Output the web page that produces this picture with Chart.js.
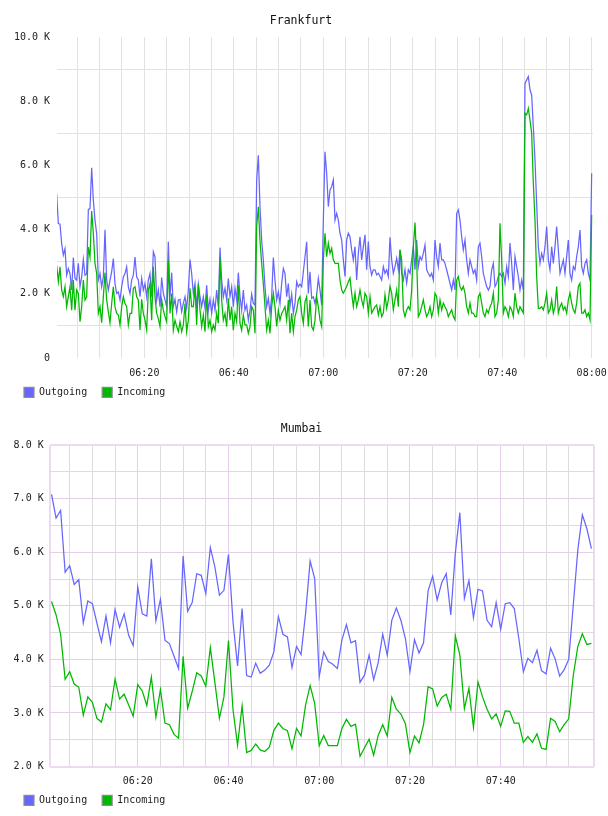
<!DOCTYPE html>
<html><head><meta charset="utf-8">
<script src="https://cdn.jsdelivr.net/npm/chart.js@4"></script>
<style>
html,body{margin:0;padding:0;background:#fff;}
.box{position:relative;width:608px;height:408px;}
</style></head><body>
<div class="box"><canvas id="fra"></canvas></div>
<div class="box"><canvas id="mum"></canvas></div>
<script>
// ---------- data ----------
const seriesNames = ['Outgoing', 'Incoming'];
const seriesColors = ['#6666ff', '#00b800'];
const fraTitle = 'Frankfurt';
const mumTitle = 'Mumbai';

// Frankfurt: samples (minutes after 06:00), first sample and spacing
const FRA_START_MIN = 0.396;
const FRA_STEP_MIN = 0.3726;
const fraOut = [
5120,4190,4170,3570,3210,3410,2580,2790,2630,2120,
3130,2480,2430,2950,2220,2530,3070,2580,2630,4630,
4660,5930,4920,4290,3880,2430,2630,2220,2530,4000,
2430,2120,2430,2690,3100,2320,2010,2060,1810,2220,
2530,2630,2840,2220,2010,2430,2580,3150,2530,2430,
1910,2480,2120,2320,1910,2430,2630,1910,3310,3150,
1810,2120,1600,2510,2010,1810,1600,3620,1910,2660,
1600,1830,1440,1810,1830,1440,1700,1910,1550,2120,
3070,2630,2010,2320,1550,2300,1910,1600,1910,1550,
2270,1490,1830,1390,1810,1490,2120,1600,3440,2430,
1910,2170,1810,2480,1910,2220,1600,2170,1810,2660,
1910,1490,2120,1490,1650,1180,1490,1990,1700,1650,
5540,6320,4710,3670,3050,2220,1600,1860,1390,1910,
3130,2430,1810,2060,1700,2320,2790,2630,1910,2320,
1600,1990,1390,1700,2380,2220,2300,2220,2690,3150,
3620,2010,2690,1860,1910,1700,1960,2480,2120,
1650,4300,6430,5760,4720,5240,5340,5550,4300,4510,
4300,3890,3680,3060,2540,3680,3890,3780,3370,3060,
3470,2430,3260,3780,3060,3470,3840,2750,3630,2850,
2590,2750,2750,2590,2640,2540,2430,2850,2640,2750,
2540,3760,3060,2640,2850,3110,2750,3370,2640,2430,
2750,2330,2750,2640,3060,3470,2750,3680,2850,3160,
3060,3260,3520,2750,2640,2540,2640,2430,3680,3160,
2850,3580,3060,3060,2950,2750,2540,2330,2120,2430,
2120,4510,4620,4300,3780,3370,3680,3060,2640,3060,
2850,2640,2750,2430,3470,3580,3160,2640,2430,2230,
2120,2230,2750,2950,2230,2330,2540,2640,2540,2640,
2330,2850,2540,3580,2950,2120,3160,2850,2540,2120,
2430,2120,8560,8670,8770,8360,8200,7210,6170,4820,
3470,2950,3260,3060,3470,4100,3060,2750,3470,2950,
3470,4100,3370,2640,2850,3060,2640,3160,3680,2640,
2430,2850,2750,3160,3470,3990,2850,2640,2950,3060,
2640,2430,5760
];
const fraIn = [
2890,2380,2840,2120,1910,2220,1600,1910,2220,1490,
2430,1490,2120,2010,1130,1600,2430,1810,1910,3460,
3150,4580,3880,2950,2630,1390,1600,1100,1910,2660,
1810,1440,1100,1700,2220,1600,1390,1340,1030,1600,
1910,1700,1600,1030,1390,1390,2170,2220,1910,1810,
870,1830,1390,1180,870,2120,2320,1180,2840,1910,
1390,1230,980,1810,1490,1290,1130,3050,1390,2010,
870,1180,980,820,1130,820,1030,1700,820,1180,
2170,1600,1600,2220,1030,2300,1490,980,1340,820,
1960,980,1180,820,1030,870,1390,1080,3130,1810,
1180,1390,980,1860,1180,1600,870,1390,1130,2270,
1080,870,1340,1030,1030,770,980,1600,1490,770,
4090,4710,3670,2950,2320,1600,870,1180,770,1600,
2010,1600,980,1490,1180,1390,1490,1600,1180,1810,
770,1390,820,1290,1490,1810,1910,1390,1080,1750,
1910,980,1810,980,870,1180,1910,1600,1180,
980,3060,3890,3160,3580,3260,3420,3060,2950,2950,
2950,2430,2120,2020,2120,2230,2380,2490,2020,1600,
2020,1600,1810,2120,1810,1600,2020,1910,1400,1910,
1400,1500,1600,1650,1340,1600,1290,1400,1970,1550,
1810,2230,2020,1500,1810,2120,1600,3370,3060,1500,
1290,1500,1600,1500,2120,3470,4220,3060,1290,1400,
1600,1810,1500,1290,1400,1600,1290,1500,2020,1910,
1400,1810,1500,1710,1600,1500,1290,1400,1500,1290,
1190,2430,2540,2230,2120,2230,2020,1600,1400,1710,
1400,1400,1290,1290,1910,2020,1710,1400,1290,1500,
1400,1600,1710,2020,1290,1400,1810,4200,3060,1400,
1600,1500,1290,1600,1500,1290,2020,1600,1400,1600,
1500,1400,7630,7580,7780,7420,7010,5450,4300,2540,
1550,1550,1600,1500,1710,2020,1400,1500,1810,1400,
1600,2230,1400,1600,1710,1500,1600,1400,1810,2020,
1710,1500,1400,1710,2230,2330,1400,1400,1500,1290,
1400,1190,4460
];

// Mumbai: one sample per minute from 06:01
const MUM_START_MIN = 1;
const MUM_STEP_MIN = 1;
const mumOut = [
7080,6640,6780,5630,5750,5400,5490,4680,5090,5040,
4680,4330,4810,4310,4930,4600,4850,4450,4260,5350,
4850,4810,5880,4720,5120,4360,4290,4060,3830,5930,
4900,5060,5600,5570,5230,6090,5730,5200,5290,5960,
4700,3880,4950,3700,3670,3930,3740,3800,3890,4140,
4800,4470,4420,3850,4240,4090,4860,5840,5510,3680,
4140,3960,3910,3830,4360,4650,4310,4350,3570,3710,
4080,3620,3940,4470,4080,4730,4960,4730,4390,3770,
4370,4120,4310,5280,5550,5110,5430,5600,4830,5980,
6740,5140,5470,4780,5310,5280,4730,4610,5060,4560,
5040,5060,4950,4390,3770,4020,3940,4170,3790,3730,
4210,4010,3690,3810,4000,5010,6040,6700,6440,6070
];
const mumIn = [
5080,4830,4470,3630,3770,3540,3480,2960,3300,3200,
2900,2830,3170,3060,3630,3260,3350,3150,2940,3530,
3410,3140,3670,2920,3440,2810,2780,2600,2530,4060,
3090,3400,3750,3690,3500,4220,3570,2900,3300,4350,
3060,2400,3130,2260,2300,2420,2310,2280,2360,2670,
2810,2710,2670,2330,2710,2570,3150,3510,3180,2390,
2580,2390,2390,2390,2710,2880,2750,2790,2190,2350,
2510,2210,2580,2780,2570,3290,3070,2980,2800,2260,
2570,2440,2780,3490,3450,3130,3290,3350,3070,4440,
4080,3080,3460,2730,3580,3300,3070,2890,2980,2750,
3040,3030,2810,2810,2450,2560,2450,2610,2340,2320,
2900,2840,2650,2780,2890,3700,4240,4480,4280,4300
];

// axes (minutes after 06:00 / bytes)
const fraXRange = [0.47, 120.3];
const fraYRange = [0, 10000];
const fraXTicks = [5,10,15,20,25,30,35,40,45,50,55,60,65,70,75,80,85,90,95,100,105,110,115,120];
const fraYTicks = [0,1000,2000,3000,4000,5000,6000,7000,8000,9000,10000];
const mumXRange = [0.66, 120.57];
const mumYRange = [2000, 8000];
const mumXTicks = [5,10,15,20,25,30,35,40,45,50,55,60,65,70,75,80,85,90,95,100,105,110,115];
const mumYTicks = [2000,2500,3000,3500,4000,4500,5000,5500,6000,6500,7000,7500,8000];

// ---------- helpers ----------
const FONT = "'DejaVu Sans Mono', monospace";
Chart.defaults.font.family = FONT;
Chart.defaults.font.size = 10;
Chart.defaults.color = '#222';

function hhmm(m) {
  const t = 6 * 60 + Math.round(m);
  const h = Math.floor(t / 60), mm = t % 60;
  return String(h).padStart(2, '0') + ':' + String(mm).padStart(2, '0');
}
function kLabel(v) {
  return v === 0 ? '0' : (v / 1000).toFixed(1) + ' K';
}
function toPoints(vals, start, step) {
  return vals.map((v, i) => ({ x: start + i * step, y: v }));
}

const GRAY = '#e2e2e2';
const MGRAY = '#dedbde';
const PINK = 'rgb(228,206,233)';
const FRAME = 'rgb(236,218,240)';

// moves the legend box up a little so it sits right under the tick labels
const legendNudge = {
  id: 'legendNudge',
  afterLayout(chart, args, opts) {
    const l = chart.legend;
    if (l && opts && opts.dy) { l.top += opts.dy; l.bottom += opts.dy; }
  }
};

function legendOpts(maxH) {
  return {
    position: 'bottom', align: 'start', maxHeight: maxH,
    labels: {
      boxWidth: 10, boxHeight: 10, padding: 15,
      font: { size: 10, family: FONT }, color: '#222',
      sort: (a, b) => a.datasetIndex - b.datasetIndex,
      generateLabels: (chart) => {
        const items = Chart.defaults.plugins.legend.labels.generateLabels(chart);
        items.forEach(it => {
          it.fillStyle = seriesColors[it.datasetIndex];
          it.strokeStyle = '#8c8c8c';
          it.lineWidth = 1.2;
        });
        return items;
      }
    }
  };
}
function titleOpts(text) {
  return { display: true, text, color: '#111',
    font: { size: 11.5, weight: 'normal', family: FONT },
    padding: { top: 14.2, bottom: 9.2 } };
}
function datasets(out, inc, start, step) {
  return [
    { label: seriesNames[0], data: toPoints(out, start, step), borderColor: seriesColors[0],
      backgroundColor: seriesColors[0], borderWidth: 1.25, pointRadius: 0, tension: 0, order: 1 },
    { label: seriesNames[1], data: toPoints(inc, start, step), borderColor: seriesColors[1],
      backgroundColor: seriesColors[1], borderWidth: 1.25, pointRadius: 0, tension: 0, order: 0 }
  ];
}
// keep the plot area at its fixed size even if an edge tick label overhangs
function fixX(h) {
  return s => { s.height = h; s.paddingLeft = 0; s.paddingRight = 0; };
}

// ---------- Frankfurt ----------
new Chart(document.getElementById('fra'), {
  type: 'line',
  data: { datasets: datasets(fraOut, fraIn, FRA_START_MIN, FRA_STEP_MIN) },
  plugins: [legendNudge],
  options: {
    responsive: true, maintainAspectRatio: false, animation: false, events: [],
    layout: { padding: { left: 9, right: 15, top: 0, bottom: 0 } },
    plugins: { title: titleOpts(fraTitle), legend: legendOpts(28),
      legendNudge: { dy: -7.7 }, tooltip: { enabled: false } },
    scales: {
      x: {
        type: 'linear', min: fraXRange[0], max: fraXRange[1],
        afterBuildTicks: s => { s.ticks = fraXTicks.map(v => ({ value: v })); },
        afterFit: fixX(22),
        ticks: { padding: 9, maxRotation: 0, autoSkip: false,
          callback: v => (v % 20 === 0 ? hhmm(v) : '') },
        grid: { drawTicks: false, color: GRAY, lineWidth: 1 },
        border: { display: false }
      },
      y: {
        type: 'linear', min: fraYRange[0], max: fraYRange[1],
        afterBuildTicks: s => { s.ticks = fraYTicks.map(v => ({ value: v })); },
        afterFit: s => { s.width = 48; },
        ticks: { padding: 7, autoSkip: false,
          callback: v => (v % 2000 === 0 ? kLabel(v) : '') },
        grid: { drawTicks: false, lineWidth: 1,
          color: c => (c.tick && c.tick.value % 2000 === 1000 ? GRAY : 'rgba(0,0,0,0)') },
        border: { display: false }
      }
    }
  }
});

// ---------- Mumbai ----------
const mumXAll = [mumXRange[0]].concat(mumXTicks, [mumXRange[1]]);
new Chart(document.getElementById('mum'), {
  type: 'line',
  data: { datasets: datasets(mumOut, mumIn, MUM_START_MIN, MUM_STEP_MIN) },
  plugins: [legendNudge],
  options: {
    responsive: true, maintainAspectRatio: false, animation: false, events: [],
    layout: { padding: { left: 9, right: 14, top: 0, bottom: 0 } },
    plugins: { title: titleOpts(mumTitle), legend: legendOpts(27.5),
      legendNudge: { dy: -8.2 }, tooltip: { enabled: false } },
    scales: {
      x: {
        type: 'linear', min: mumXRange[0], max: mumXRange[1],
        afterBuildTicks: s => { s.ticks = mumXAll.map(v => ({ value: v })); },
        afterFit: fixX(22),
        ticks: { padding: 9, maxRotation: 0, autoSkip: false,
          callback: v => (Number.isInteger(v) && v % 20 === 0 ? hhmm(v) : '') },
        grid: { drawTicks: false,
          color: c => {
            const v = c.tick ? c.tick.value : 0;
            if (v === mumXRange[0] || v === mumXRange[1]) return FRAME;
            return v % 20 === 0 ? PINK : MGRAY;
          },
          lineWidth: c => {
            const v = c.tick ? c.tick.value : 0;
            return (v === mumXRange[0] || v === mumXRange[1]) ? 2 : 1;
          } },
        border: { display: false }
      },
      y: {
        type: 'linear', min: mumYRange[0], max: mumYRange[1],
        afterBuildTicks: s => { s.ticks = mumYTicks.map(v => ({ value: v })); },
        afterFit: s => { s.width = 41; },
        ticks: { padding: 6.3, autoSkip: false,
          callback: v => (v % 1000 === 0 ? kLabel(v) : '') },
        grid: { drawTicks: false,
          color: c => {
            const v = c.tick ? c.tick.value : 0;
            if (v === mumYRange[0] || v === mumYRange[1]) return FRAME;
            return v % 1000 === 0 ? PINK : MGRAY;
          },
          lineWidth: c => {
            const v = c.tick ? c.tick.value : 0;
            return (v === mumYRange[0] || v === mumYRange[1]) ? 2 : 1;
          } },
        border: { display: false }
      }
    }
  }
});
</script>
</body></html>
